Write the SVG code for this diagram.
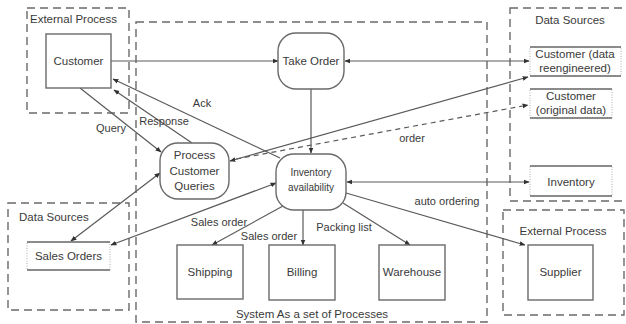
<svg xmlns="http://www.w3.org/2000/svg" width="626" height="324" viewBox="0 0 626 324">
<style>
text{font-family:"Liberation Sans",Arial,sans-serif;fill:#3a3a3a;font-size:11.5px}
.c{text-anchor:middle}
.sm{font-size:10px}
.lb{font-size:11px}
.grp{fill:none;stroke:#6a6a6a;stroke-width:1.4;stroke-dasharray:8 5}
.box{fill:#fff;stroke:#6a6a6a;stroke-width:1.4}
.ds{fill:#fff;stroke:#999;stroke-width:0.8;stroke-dasharray:1 1.5}
.dsl{stroke:#6a6a6a;stroke-width:1.4}
.ln{fill:none;stroke:#5a5a5a;stroke-width:1.2}
.dl{fill:none;stroke:#5a5a5a;stroke-width:1.2;stroke-dasharray:5 4}
</style>
<defs>
<marker id="a" viewBox="0 0 10 10" refX="9" refY="5" markerWidth="5" markerHeight="5" orient="auto-start-reverse">
<path d="M0,1 L10,5 L0,9 z" fill="#333"/>
</marker>
</defs>
<rect width="626" height="324" fill="#fff"/>

<g id="grp-ext1"><rect class="grp" x="27" y="8" width="102" height="105"/><text x="30" y="23">External Process</text></g>
<g id="grp-system"><rect class="grp" x="136" y="22" width="351" height="300"/><text class="c" x="312" y="318">System As a set of Processes</text></g>
<g id="grp-ds1"><rect class="grp" x="510" y="8" width="122" height="193"/><text class="c" x="570" y="24">Data Sources</text></g>
<g id="grp-ds2"><rect class="grp" x="8" y="203" width="121" height="107"/><text x="19" y="221">Data Sources</text></g>
<g id="grp-ext2"><rect class="grp" x="503" y="210" width="121" height="105"/><text class="c" x="563" y="235">External Process</text></g>

<g id="connectors">
<line class="ln" x1="111" y1="61" x2="278" y2="61" marker-end="url(#a)"/>
<line class="ln" x1="345" y1="61" x2="529" y2="61" marker-start="url(#a)" marker-end="url(#a)"/>
<line class="ln" x1="311" y1="89" x2="311" y2="153" marker-end="url(#a)"/>
<line class="ln" x1="280" y1="158" x2="113" y2="79" marker-end="url(#a)"/>
<line class="ln" x1="192" y1="143" x2="114" y2="90" marker-end="url(#a)"/>
<line class="ln" x1="80" y1="88" x2="161" y2="152" marker-end="url(#a)"/>
<line class="ln" x1="160" y1="173" x2="71" y2="241" marker-start="url(#a)" marker-end="url(#a)"/>
<line class="ln" x1="276" y1="183" x2="111" y2="245" marker-start="url(#a)" marker-end="url(#a)"/>
<line class="ln" x1="230" y1="161" x2="528" y2="77" marker-start="url(#a)" marker-end="url(#a)"/>
<path class="dl" d="M236,159 L528,105" marker-end="url(#a)"/>
<line class="ln" x1="347" y1="182" x2="529" y2="182" marker-start="url(#a)" marker-end="url(#a)"/>
<line class="ln" x1="346" y1="193" x2="525" y2="245" marker-end="url(#a)"/>
<line class="ln" x1="343" y1="203" x2="410" y2="245" marker-end="url(#a)"/>
<line class="ln" x1="303" y1="210" x2="303" y2="245" marker-end="url(#a)"/>
<line class="ln" x1="283" y1="206" x2="212" y2="245" marker-end="url(#a)"/>
<text class="lb" x="202" y="107" text-anchor="middle">Ack</text>
<text class="lb" x="164" y="125" text-anchor="middle">Response</text>
<text class="lb" x="111" y="132" text-anchor="middle">Query</text>
<text class="lb" x="412" y="142" text-anchor="middle">order</text>
<text class="lb" x="447" y="205" text-anchor="middle">auto ordering</text>
<text class="lb" x="344" y="231" text-anchor="middle">Packing list</text>
<text class="lb" x="269" y="240" text-anchor="middle">Sales order</text>
<text class="lb" x="219" y="226" text-anchor="middle">Sales order</text>
</g>

<g id="customer"><rect class="box" x="46" y="34" width="65" height="54"/><text class="c" x="78.5" y="65">Customer</text></g>
<g id="take-order"><rect class="box" x="278" y="33" width="66" height="56" rx="18"/><text class="c" x="311" y="65">Take Order</text></g>
<g id="process-customer-queries"><rect class="box" x="160" y="143" width="69" height="56" rx="18"/><text class="c" x="194.5" y="159">Process</text><text class="c" x="194.5" y="175">Customer</text><text class="c" x="194.5" y="190">Queries</text></g>
<g id="inventory-availability"><rect class="box" x="276" y="154" width="70" height="56" rx="18"/><text class="c sm" x="311" y="176">Inventory</text><text class="c sm" x="311" y="191">availability</text></g>
<g id="shipping"><rect class="box" x="177" y="245" width="66" height="54"/><text class="c" x="210" y="276">Shipping</text></g>
<g id="billing"><rect class="box" x="269" y="245" width="66" height="55"/><text class="c" x="302" y="276">Billing</text></g>
<g id="warehouse"><rect class="box" x="379" y="245" width="66" height="55"/><text class="c" x="412" y="276">Warehouse</text></g>
<g id="supplier"><rect class="box" x="528" y="245" width="65" height="55"/><text class="c" x="560.5" y="276">Supplier</text></g>
<g id="customer-reengineered"><rect class="ds" x="530" y="47" width="91" height="29"/><line class="dsl" x1="530" y1="47" x2="621" y2="47"/><line class="dsl" x1="530" y1="76" x2="621" y2="76"/><text class="c" x="575" y="58">Customer (data</text><text class="c" x="575" y="72">reengineered)</text></g>
<g id="customer-original"><rect class="ds" x="530" y="89" width="82" height="29"/><line class="dsl" x1="530" y1="89" x2="612" y2="89"/><line class="dsl" x1="530" y1="118" x2="612" y2="118"/><text class="c" x="571" y="100">Customer</text><text class="c" x="571" y="114">(original data)</text></g>
<g id="inventory"><rect class="ds" x="530" y="166" width="82" height="30"/><line class="dsl" x1="530" y1="166" x2="612" y2="166"/><line class="dsl" x1="530" y1="196" x2="612" y2="196"/><text class="c" x="571" y="186">Inventory</text></g>
<g id="sales-orders"><rect class="ds" x="27" y="242" width="83" height="28"/><line class="dsl" x1="27" y1="242" x2="110" y2="242"/><line class="dsl" x1="27" y1="270" x2="110" y2="270"/><text class="c" x="68.5" y="260">Sales Orders</text></g>
</svg>
